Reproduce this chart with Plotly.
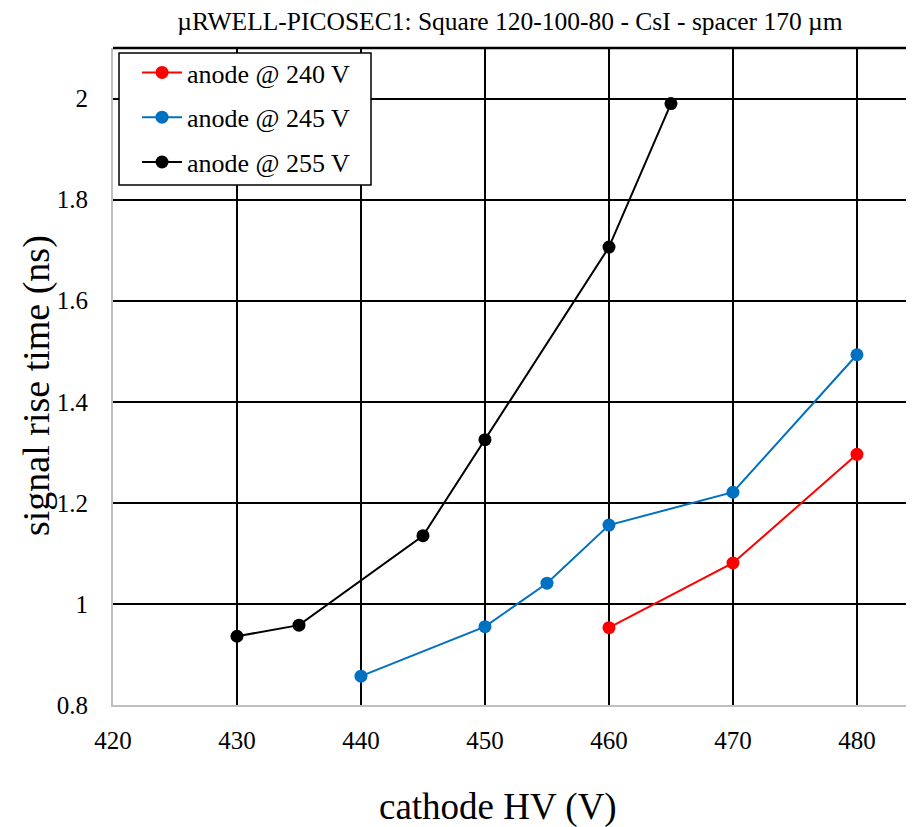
import plotly.graph_objects as go

x_240 = [460, 470, 480]
y_240 = [0.953, 1.081, 1.296]
x_245 = [440, 450, 455, 460, 470, 480]
y_245 = [0.857, 0.955, 1.041, 1.156, 1.221, 1.493]
x_255 = [430, 435, 445, 450, 460, 465]
y_255 = [0.936, 0.958, 1.135, 1.325, 1.706, 1.990]

names = ["anode @ 240 V", "anode @ 245 V", "anode @ 255 V"]
colors = ["#ff0000", "#0070c0", "#000000"]

FONT = "Liberation Serif"
fig = go.Figure()
for i, (xs, ys, n, c) in enumerate(zip([x_240, x_245, x_255], [y_240, y_245, y_255], names, colors)):
    fig.add_trace(go.Scatter(x=xs, y=ys, name=n, mode="lines+markers", legendgroup=f"g{i}",
                             line=dict(color=c, width=2),
                             marker=dict(color=c, size=13)))

fig.update_layout(
    width=906, height=819,
    margin=dict(l=105, r=0, t=40, b=122),
    paper_bgcolor="white", plot_bgcolor="white",
    font=dict(family=FONT, color="black"),
    title=dict(text="µRWELL-PICOSEC1: Square 120-100-80 - CsI - spacer 170 µm",
               x=0.554, xanchor="center", y=0.9835, yanchor="middle",
               font=dict(size=25.5, family=FONT)),
    legend=dict(x=0.030, y=0.9985, xanchor="left", yanchor="top",
                borderwidth=0, bgcolor="rgba(0,0,0,0)",
                font=dict(size=26, family=FONT), itemwidth=40,
                traceorder="grouped", tracegroupgap=8),
    showlegend=True,
)
fig.update_xaxes(range=[420, 484.6], tickvals=[420, 430, 440, 450, 460, 470, 480],
                 showgrid=True, gridcolor="black", gridwidth=1.6,
                 showline=True, linecolor="#bfbfbf", linewidth=2,
                 zeroline=False, ticks="", tickfont=dict(size=25, family=FONT),
                 ticklabelstandoff=12, automargin=False)
fig.update_yaxes(range=[0.8, 2.1], tickvals=[0.8, 1, 1.2, 1.4, 1.6, 1.8, 2],
                 ticktext=["0.8", "1", "1.2", "1.4", "1.6", "1.8", "2"],
                 showgrid=True, gridcolor="black", gridwidth=1.6,
                 showline=True, linecolor="#bfbfbf", linewidth=2,
                 zeroline=False, ticks="", tickfont=dict(size=25, family=FONT),
                 ticklabelstandoff=18, automargin=False)
fig.add_annotation(text="cathode HV (V)", xref="paper", yref="paper", x=0.4806, y=-0.1553,
                   xanchor="center", yanchor="middle", showarrow=False,
                   font=dict(size=37, family=FONT))
fig.add_annotation(text="signal rise time (ns)", xref="paper", yref="paper", x=-0.0962, y=0.487,
                   xanchor="center", yanchor="middle", showarrow=False, textangle=-90,
                   font=dict(size=38, family=FONT))
fig.add_shape(type="line", xref="paper", yref="paper", x0=0, x1=1, y0=1, y1=1,
              line=dict(color="black", width=2.5))
fig.add_shape(type="rect", xref="paper", yref="paper", x0=0.0075, x1=0.3221, y0=0.7915, y1=0.9924,
              line=dict(color="black", width=1.5), fillcolor="white", layer="above")
fig.write_html("out.html")
